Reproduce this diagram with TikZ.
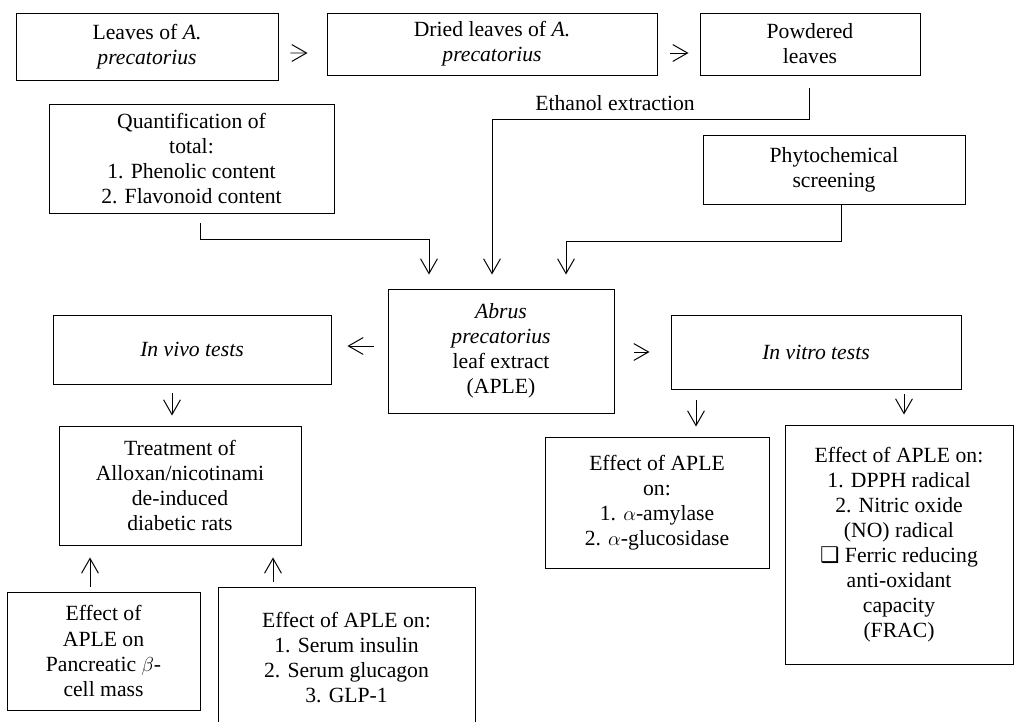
\documentclass[tikz,border=0pt]{standalone}
\usepackage{fontspec}
\setmainfont{Liberation Serif}
\newfontfamily\symfont{DejaVu Sans}
\usetikzlibrary{positioning}
\usetikzlibrary{arrows.meta}
\tikzset{x=0.025cm, y=-0.025cm, % One unit is one pixel of the scan
every node/.style={ % Sets the text of each box
font=\fontsize{15.4}{17.8}\selectfont,
align=center},
box/.style 2 args={ % Plain frame of a given size
draw, line width=0.7pt, inner sep=0pt,
minimum width=#1*0.025cm,
minimum height=#2*0.025cm},
arr/.style={ % Short open arrows between the boxes
draw, line width=0.7pt,
-{Straight Barb[length=10.5pt,width=12pt]}}}

\begin{document}
\begin{tikzpicture}
\clip (0,0) rectangle (1014,722);
% preparation
\node[box={262}{67}] (leaves) at (147,46.5) {Leaves of \textit{A.}\\\textit{precatorius}};
\node[box={330}{62}] (dried) at (492,44) {Dried leaves of \textit{A.}\\\textit{precatorius}};
\node[box={220}{62}] (powder) at (810,44) {Powdered\\leaves};
\node (ethanol) at (615,103) {Ethanol extraction};
\node[box={285}{109}] (quant) at (191.5,158.5) {Quantification of\\total:\\1. Phenolic content\\2. Flavonoid content};
\node[box={262}{69}] (phyto) at (834,169.5) {Phytochemical\\screening};
\node[box={226}{124}] (aple) at (501,351) {\textit{Abrus}\\\textit{precatorius}\\leaf extract\\(APLE)};
% tests
\node[box={278}{69}] (invivo) at (192,349.5) {\textit{In vivo tests}};
\node[box={290}{74}] (invitro) at (816,352) {\textit{In vitro tests}};
\node[box={242}{119}] (treat) at (180,485.5) {Treatment of\\Alloxan/nicotinami\\de-induced\\diabetic rats};
\node[box={224}{131}] (enzyme) at (657,502.5) {Effect of APLE\\on:\\1. $\alpha$-amylase\\2. $\alpha$-glucosidase};
\node[box={228}{239}] (antiox) at (899,544.5) {Effect of APLE on:\\1. DPPH radical\\2. Nitric oxide\\(NO) radical\\{\symfont ❑} Ferric reducing\\anti-oxidant\\capacity\\(FRAC)};
\node[box={193}{118}] (beta) at (103.5,651) {Effect of\\APLE on\\Pancreatic $\beta$-\\cell mass};
\node[box={257}{141}] (serum) at (346.5,657.5) {Effect of APLE on:\\1. Serum insulin\\2. Serum glucagon\\3. GLP-1};

\draw[arr] ([shift={(12,6.5)}]leaves.east) -- ([shift={(-19,9)}]dried.west);
\draw[arr] ([shift={(13,9)}]dried.east) -- ([shift={(-11,9)}]powder.west);
\draw[arr] ([shift={(-1,13)}]powder.south) -- ++(0,31) -| ([shift={(-9,-14)}]aple.north);
\draw[arr] ([shift={(8.5,10)}]quant.south) -- ++(0,16) -| ([shift={(-72,-14)}]aple.north);
\draw[arr] ([shift={(7,0)}]phyto.south) -- ++(0,37) -| ([shift={(65,-14)}]aple.north);
\draw[arr] ([shift={(-14,-5)}]aple.west) -- ([shift={(16,-3.5)}]invivo.east);
\draw[arr] ([shift={(20,1)}]aple.east) -- ([shift={(-21,0)}]invitro.west);
\draw[arr] ([shift={(-20,9)}]invivo.south) -- ([shift={(-8,-10)}]treat.north);
\draw[arr] ([shift={(-120,11)}]invitro.south) -- ([shift={(39,-10)}]enzyme.north);
\draw[arr] ([shift={(88,5)}]invitro.south) -- ([shift={(5,-10)}]antiox.north);
\draw[arr] ([shift={(-13.5,-5)}]beta.north) -- ([shift={(-90,12)}]treat.south);
\draw[arr] ([shift={(-73.5,-5)}]serum.north) -- ([shift={(93,12)}]treat.south);
\end{tikzpicture}
\end{document}
